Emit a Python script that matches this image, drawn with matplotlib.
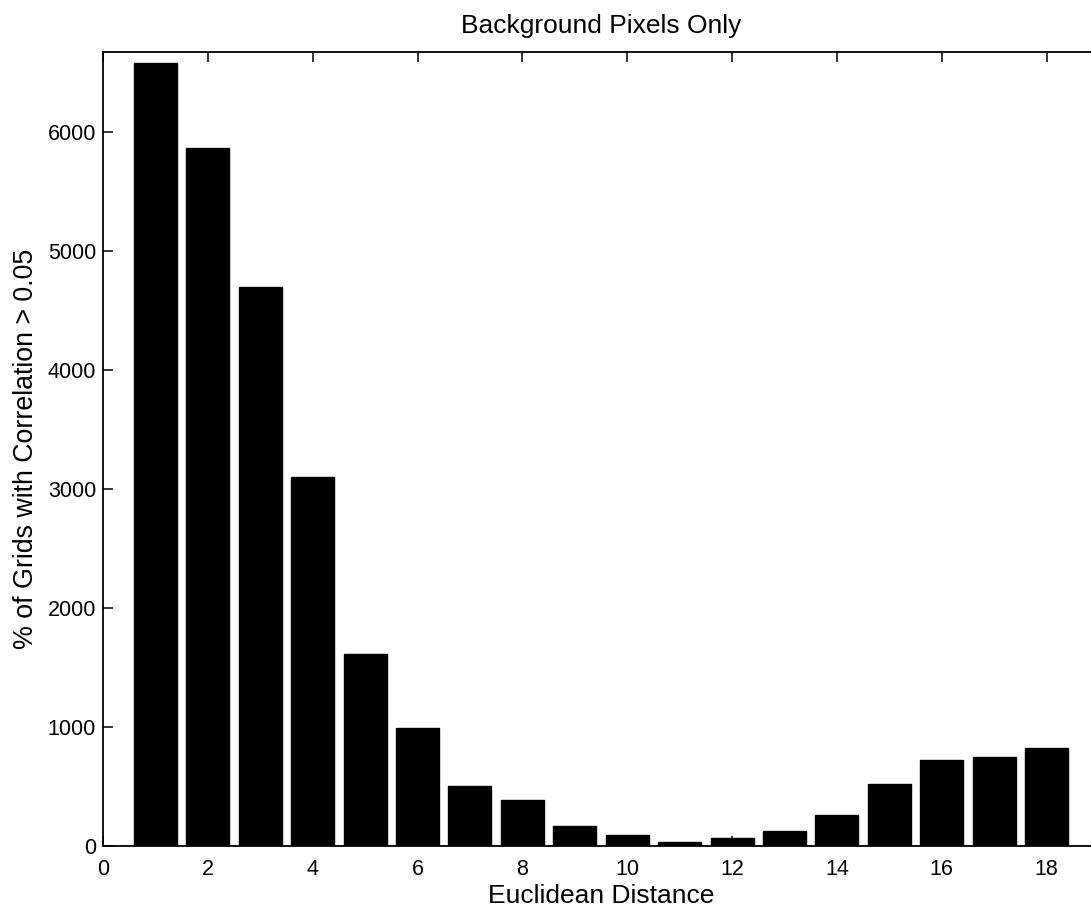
"""
Bar chart: share of grids with correlation > 0.05 vs Euclidean distance
(background pixels only). Values read off the reference figure.
"""
import numpy as np
import matplotlib
matplotlib.use("Agg")
import matplotlib.pyplot as plt

plt.rcParams["font.family"] = ["Liberation Sans", "DejaVu Sans"]

distance = np.arange(1, 19)
pct_grids = [6580, 5866, 4700, 3100, 1613, 992, 507, 389, 171,
             92, 36, 67, 123, 260, 518, 720, 745, 826]
xticks = [0, 2, 4, 6, 8, 10, 12, 14, 16, 18]
yticks = [0, 1000, 2000, 3000, 4000, 5000, 6000]

fig = plt.figure(figsize=(10.91, 9.09), dpi=100)
ax = fig.add_axes([0.0944, 0.0693, 0.913, 0.8735])

ax.bar(distance, pct_grids, width=0.82, color="black", edgecolor="black")

ax.set_xlim(0, 19)
ax.set_ylim(0, 6670)
ax.set_xticks(xticks)
ax.set_yticks(yticks)
ax.tick_params(direction="in", length=7, width=1.1, labelsize=15.5,
               top=True, right=False)
ax.tick_params(axis="x", pad=9)
ax.tick_params(axis="y", pad=5)
for s in ax.spines.values():
    s.set_linewidth(1.3)

ax.set_xlabel("Euclidean Distance", fontsize=19, labelpad=3)
ax.set_ylabel("% of Grids with Correlation > 0.05", fontsize=19.3, labelpad=6)
ax.set_title("Background Pixels Only", fontsize=19, pad=14)

fig.savefig("out.png", dpi=100)
plt.close(fig)
